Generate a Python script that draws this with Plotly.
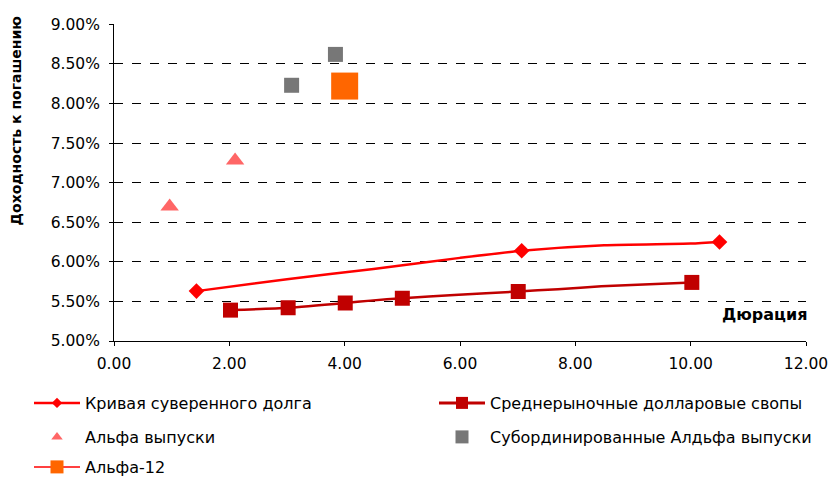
import plotly.graph_objects as go

# Sovereign curve (smooth line) and bonds with markers
sov_curve_dur = [1.43, 3.0, 4.5, 6.0, 7.07, 8.5, 10.0, 10.5]
sov_curve_yield = [5.63, 5.78, 5.91, 6.05, 6.14, 6.21, 6.23, 6.25]
sov_bond_dur = [1.43, 7.07, 10.5]
sov_bond_yield = [5.63, 6.14, 6.25]

# Average market USD swaps
swap_curve_dur = [2.02, 3.02, 4.01, 4.45, 5.0, 5.9, 7.01, 7.7, 8.45, 10.02]
swap_curve_yield = [5.39, 5.42, 5.48, 5.51, 5.54, 5.58, 5.625, 5.655, 5.69, 5.74]
swap_pt_dur = [2.02, 3.02, 4.01, 5.0, 7.01, 10.02]
swap_pt_yield = [5.39, 5.42, 5.48, 5.54, 5.625, 5.74]

# Alfa issues
alfa_dur = [0.965, 2.10]
alfa_yield = [6.70, 7.28]

# Subordinated Alfa issues
sub_dur = [3.08, 3.84]
sub_yield = [8.23, 8.62]

# Alfa-12
a12_dur = [4.00]
a12_yield = [8.22]

names = ["Кривая суверенного долга", "Среднерыночные долларовые свопы",
         "Альфа выпуски", "Субординированные Алдьфа выпуски", "Альфа-12"]

x_ticks = [0, 2, 4, 6, 8, 10, 12]
y_ticks = [5.0, 5.5, 6.0, 6.5, 7.0, 7.5, 8.0, 8.5, 9.0]
y_tick_text = [f"{v:.2f}%" for v in y_ticks]

RED = "#FF0000"
DARK = "#C00000"
PINK = "#FF6666"
GRAY = "#777777"
ORANGE = "#FF6600"
FONT = "DejaVu Sans, Verdana, sans-serif"

fig = go.Figure()

# data traces (no legend)
fig.add_trace(go.Scatter(x=sov_curve_dur, y=sov_curve_yield, mode="lines",
                         line=dict(color=RED, width=2.5, shape="spline", smoothing=0.6),
                         showlegend=False, hoverinfo="skip"))
fig.add_trace(go.Scatter(x=sov_bond_dur, y=sov_bond_yield, mode="markers",
                         marker=dict(symbol="diamond", size=12, color=RED),
                         showlegend=False))
fig.add_trace(go.Scatter(x=swap_curve_dur, y=swap_curve_yield, mode="lines",
                         line=dict(color=DARK, width=2.5, shape="spline", smoothing=0.6),
                         showlegend=False, hoverinfo="skip"))
fig.add_trace(go.Scatter(x=swap_pt_dur, y=swap_pt_yield, mode="markers",
                         marker=dict(symbol="square", size=15, color=DARK),
                         showlegend=False))
fig.add_trace(go.Scatter(x=alfa_dur, y=alfa_yield, mode="markers",
                         marker=dict(symbol="triangle-up", size=16, color=PINK),
                         showlegend=False))
fig.add_trace(go.Scatter(x=sub_dur, y=sub_yield, mode="markers",
                         marker=dict(symbol="square", size=15, color=GRAY),
                         showlegend=False))
fig.add_trace(go.Scatter(x=a12_dur, y=a12_yield, mode="markers",
                         marker=dict(symbol="square", size=27, color=ORANGE),
                         showlegend=False))

# legend entries, one legend each for exact placement
legend_ids = ["legend", "legend2", "legend3", "legend4", "legend5"]
fig.add_trace(go.Scatter(x=[None], y=[None], mode="lines+markers", name=names[0],
                         line=dict(color=RED, width=2.5),
                         marker=dict(symbol="diamond", size=8, color=RED), legend=legend_ids[0]))
fig.add_trace(go.Scatter(x=[None], y=[None], mode="lines+markers", name=names[1],
                         line=dict(color=DARK, width=3),
                         marker=dict(symbol="square", size=12, color=DARK), legend=legend_ids[1]))
fig.add_trace(go.Scatter(x=[None], y=[None], mode="markers", name=names[2],
                         marker=dict(symbol="triangle-up", size=10, color=PINK), legend=legend_ids[2]))
fig.add_trace(go.Scatter(x=[None], y=[None], mode="markers", name=names[3],
                         marker=dict(symbol="square", size=13, color=GRAY), legend=legend_ids[3]))
fig.add_trace(go.Scatter(x=[None], y=[None], mode="lines+markers", name=names[4],
                         line=dict(color=RED, width=1.5),
                         marker=dict(symbol="square", size=13, color=ORANGE), legend=legend_ids[4]))

legend_common = dict(orientation="h", xref="container", yref="container",
                     xanchor="left", yanchor="middle", itemwidth=46,
                     font=dict(family=FONT, size=16, color="#000000"),
                     bgcolor="rgba(0,0,0,0)")
legend_pos = [(29, 403), (434, 403), (29, 437), (434, 437), (29, 467)]
legend_layout = {lid: dict(legend_common, x=px / 830, y=1 - py / 477)
                 for lid, (px, py) in zip(legend_ids, legend_pos)}

fig.update_layout(
    width=830, height=477,
    margin=dict(l=114, r=24, t=24, b=136, autoexpand=False),
    paper_bgcolor="white", plot_bgcolor="white",
    font=dict(family=FONT, size=15.5, color="#000000"),
    xaxis=dict(range=[0, 12], tickvals=x_ticks, tickformat=".2f",
               showgrid=False, zeroline=False, showline=True, linecolor="#000000",
               linewidth=1, ticks="outside", ticklen=4, tickcolor="#000000",
               ticklabelstandoff=4, tickfont=dict(size=15.5)),
    yaxis=dict(range=[5, 9.004], tickvals=y_ticks, ticktext=y_tick_text,
               showgrid=True, gridcolor="#000000", griddash="dash", gridwidth=1,
               zeroline=False, showline=True, linecolor="#000000", linewidth=1,
               ticks="outside", ticklen=4, tickcolor="#000000",
               ticklabelstandoff=6, tickfont=dict(size=15.5)),
    annotations=[
        dict(text="<b>Доходность к погашению</b>", textangle=-90,
             xref="paper", yref="paper", x=-0.141, y=1.03, xanchor="center", yanchor="top",
             showarrow=False, font=dict(family=FONT, size=14)),
        dict(text="<b>Дюрация</b>", xref="paper", yref="y", x=1.0, y=5.33,
             xanchor="right", yanchor="middle", showarrow=False, xshift=3,
             font=dict(family=FONT, size=16)),
    ],
    **legend_layout,
)

fig.write_html("out.html", config={"displayModeBar": False},
               post_script="document.body.style.margin='0';")
